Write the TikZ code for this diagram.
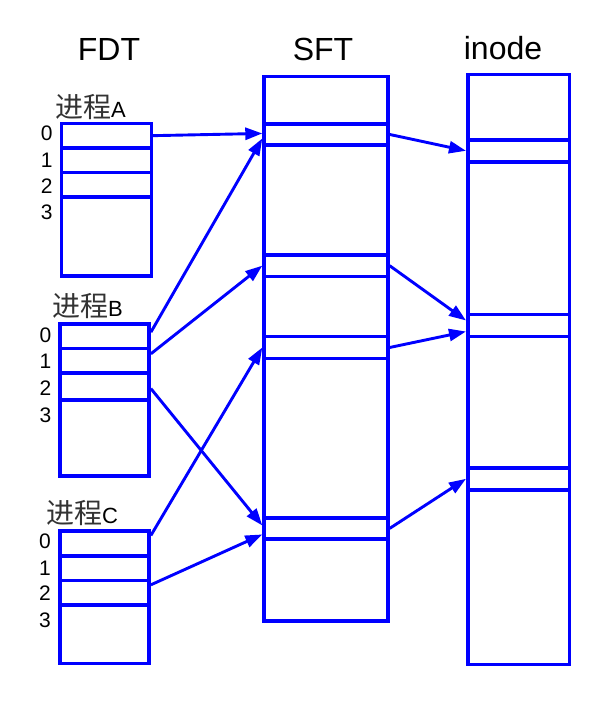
\documentclass[tikz,border=0pt]{standalone}
\usepackage{fontspec}
\setmainfont{Liberation Sans}
\newfontfamily\cjk{Noto Sans CJK SC}
\usetikzlibrary{arrows.meta}
\definecolor{tblue}{RGB}{0,0,255}
\tikzset{
  slot/.style={draw=tblue, line width=3.6pt, inner sep=0pt, anchor=north west},
  conn/.style={draw=tblue, line width=2.9pt, -{Triangle[length=17pt,width=12pt]}},
  title/.style={font=\fontsize{32}{32}\selectfont, text=black, inner sep=0pt},
  idx/.style={font=\fontsize{21}{21}\selectfont, text=black, inner sep=0pt},
  proc/.style={inner sep=0pt, anchor=base west, text=black},
}
\newcommand\mkrow[5]{\node[slot, minimum width=#5pt, minimum height={(#4-#3)*1pt}] (#1) at (#2,#3) {};}
\newcommand\pname[1]{{\cjk\color{black!80}\fontsize{28}{28}\selectfont 进程}{\fontsize{22}{22}\selectfont #1}}
\begin{document}
\begin{tikzpicture}[x=1pt,y=-1pt]
\useasboundingbox (0,0) rectangle (614,704);
% titles
\node[title, anchor=base] (tF) at (109,60) {FDT};
\node[title, anchor=base] (tS) at (323,60) {SFT};
\node[title, anchor=base] (tI) at (503,59) {inode};
% process labels
\node[proc] (pA) at (55,117) {\pname{A}};
\node[proc] (pB) at (52,316) {\pname{B}};
\node[proc] (pC) at (46,523) {\pname{C}};
% process A
\mkrow{A0}{59.5}{121.7}{146}{90}
\mkrow{A1}{59.5}{146}{170.7}{90}
\mkrow{A2}{59.5}{170.7}{195.3}{90}
\mkrow{A3}{59.5}{195.3}{274}{90}
% process B
\mkrow{B0}{58}{322}{346.7}{89.3}
\mkrow{B1}{58}{346.7}{371.3}{89.3}
\mkrow{B2}{58}{371.3}{398.3}{89.3}
\mkrow{B3}{58}{398.3}{474}{89.3}
% process C
\mkrow{C0}{58}{529.3}{554}{89.3}
\mkrow{C1}{58}{554}{578.7}{89.3}
\mkrow{C2}{58}{578.7}{603.3}{89.3}
\mkrow{C3}{58}{603.3}{661.7}{89.3}
% SFT
\mkrow{S0}{262.3}{74.7}{122}{123.7}
\mkrow{S1}{262.3}{122}{143.3}{123.7}
\mkrow{Sa}{262.3}{143.3}{253}{123.7}
\mkrow{S2}{262.3}{253}{274.7}{123.7}
\mkrow{Sb}{262.3}{274.7}{334.7}{123.7}
\mkrow{S3}{262.3}{334.7}{356.7}{123.7}
\mkrow{Sc}{262.3}{356.7}{516}{123.7}
\mkrow{S4}{262.3}{516}{537.3}{123.7}
\mkrow{Sd}{262.3}{537.3}{619.3}{123.7}
% inode
\mkrow{I0}{466}{72.7}{138}{101.7}
\mkrow{I1}{466}{138}{160}{101.7}
\mkrow{Ia}{466}{160}{312.7}{101.7}
\mkrow{I2}{466}{312.7}{334.7}{101.7}
\mkrow{Ib}{466}{334.7}{466}{101.7}
\mkrow{I3}{466}{466}{488}{101.7}
\mkrow{Ic}{466}{488}{662.7}{101.7}
% indices
\foreach \n/\y in {0/133.3,1/160,2/186,3/212.7}{\node[idx] (a\n) at (46.7,\y) {\n};}
\foreach \n/\y in {0/335,1/361.7,2/388.3,3/415}{\node[idx] (b\n) at (45.5,\y) {\n};}
\foreach \n/\y in {0/541.7,1/568.3,2/593.3,3/620}{\node[idx] (c\n) at (45,\y) {\n};}
% connectors FDT -> SFT
\draw[conn] (A0.east) -- ([yshift=1pt]S1.west);
\draw[conn] ([yshift=4pt]B0.east) -- ([yshift=-4pt]S1.west);
\draw[conn] ([yshift=7pt]B1.east) -- (S2.west);
\draw[conn] ([yshift=-2pt]B2.east) -- ([yshift=3pt]S4.west);
\draw[conn] ([yshift=8pt]C0.east) -- (S3.west);
\draw[conn] ([yshift=8pt]C2.east) -- ([yshift=-6pt]S4.west);
% connectors SFT -> inode
\draw[conn] (S1.east) -- (I1.west);
\draw[conn] (S2.east) -- ([yshift=5pt]I2.west);
\draw[conn] (S3.east) -- ([yshift=-6pt]I2.west);
\draw[conn] (S4.east) -- (I3.west);
\end{tikzpicture}
\end{document}
